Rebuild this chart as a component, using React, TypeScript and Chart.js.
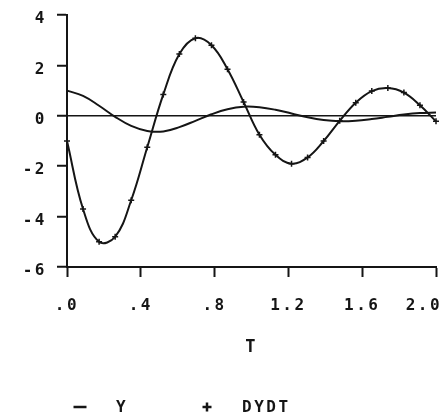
import React, { useEffect, useRef } from 'react';
import { Chart, registerables } from 'chart.js';

Chart.register(...registerables);

// ---- data ----
const T = [0, 0.087, 0.174, 0.261, 0.348, 0.435, 0.522, 0.609, 0.696, 0.783, 0.87, 0.957,
  1.043, 1.13, 1.217, 1.304, 1.391, 1.478, 1.565, 1.652, 1.739, 1.826, 1.913, 2.0];
const Y = [1.0, 0.79, 0.4, -0.04, -0.4, -0.6, -0.62, -0.45, -0.2, 0.06, 0.26, 0.36,
  0.34, 0.24, 0.09, -0.06, -0.17, -0.22, -0.2, -0.13, -0.04, 0.05, 0.11, 0.13];
const DYDT = [-1.0, -3.7, -5.0, -4.8, -3.35, -1.25, 0.85, 2.45, 3.08, 2.8, 1.85, 0.55,
  -0.75, -1.55, -1.9, -1.65, -1.0, -0.2, 0.52, 0.98, 1.1, 0.92, 0.42, -0.22];
const X_TICK_VALUES = [0, 0.4, 0.8, 1.2, 1.6, 2.0];
const X_TICK_LABELS = ['.0', '.4', '.8', '1.2', '1.6', '2.0'];
const Y_TICK_VALUES = [-6, -4, -2, 0, 2, 4];
const Y_TICK_LABELS = ['-6', '-4', '-2', '0', '2', '4'];
const SERIES_NAMES = ['Y', 'DYDT'];
const X_TITLE = 'T';

const INK = '#151515';
const FAMILY = '"DejaVu Sans Mono", monospace';
const SPACING = '2.5px';

const spacingPlugin = {
  id: 'letterSpacing',
  beforeUpdate(chart: any) { chart.ctx.letterSpacing = SPACING; },
  beforeDraw(chart: any) { chart.ctx.letterSpacing = SPACING; },
};

// legend drawn in the old plotter style: symbol, then name
const legendPlugin = {
  id: 'plotterLegend',
  afterDraw(chart: any) {
    const ctx = chart.ctx as CanvasRenderingContext2D;
    const y = 407;
    const items = [
      { sym: 80, text: 116 },
      { sym: 207, text: 242 },
    ];
    ctx.save();
    (ctx as any).letterSpacing = SPACING;
    ctx.font = `bold 16px ${FAMILY}`;
    ctx.fillStyle = INK;
    ctx.strokeStyle = INK;
    ctx.lineWidth = 2.5;
    ctx.textBaseline = 'middle';
    ctx.textAlign = 'left';
    chart.data.datasets.forEach((ds: any, i: number) => {
      const it = items[i];
      ctx.beginPath();
      if (ds.pointStyle === 'cross') {
        ctx.moveTo(it.sym - 4.5, y); ctx.lineTo(it.sym + 4.5, y);
        ctx.moveTo(it.sym, y - 4.5); ctx.lineTo(it.sym, y + 4.5);
      } else {
        ctx.moveTo(it.sym - 6.5, y); ctx.lineTo(it.sym + 6.5, y);
      }
      ctx.stroke();
      ctx.fillText(ds.label, it.text, y + 1);
    });
    ctx.restore();
  },
};

export default function App() {
  const ref = useRef<HTMLCanvasElement | null>(null);
  useEffect(() => {
    if (!ref.current) return;
    const font = { family: FAMILY, size: 16, weight: 'bold' as const };
    const chart = new Chart(ref.current, {
      type: 'line',
      data: {
        datasets: [
          {
            label: SERIES_NAMES[0],
            data: T.map((t, i) => ({ x: t, y: Y[i] })),
            borderColor: INK,
            borderWidth: 2,
            pointRadius: 0,
            pointStyle: 'line',
            tension: 0.4,
            fill: false,
          },
          {
            label: SERIES_NAMES[1],
            data: T.map((t, i) => ({ x: t, y: DYDT[i] })),
            borderColor: INK,
            borderWidth: 2,
            pointStyle: 'cross',
            pointRadius: 3,
            pointBorderWidth: 1.5,
            pointBorderColor: INK,
            tension: 0.4,
            fill: false,
          },
        ],
      },
      options: {
        animation: false,
        responsive: true,
        maintainAspectRatio: false,
        clip: false as any,
        layout: { padding: { left: 0, right: 12, top: 15, bottom: 61 } },
        plugins: { legend: { display: false }, tooltip: { enabled: false } },
        scales: {
          x: {
            type: 'linear',
            min: 0,
            max: 2,
            afterBuildTicks: (s: any) => { s.ticks = X_TICK_VALUES.map((v) => ({ value: v })); },
            afterFit: (s: any) => { s.height = 91; s.paddingLeft = 0; s.paddingRight = 0; },
            ticks: {
              autoSkip: false,
              maxRotation: 0,
              color: INK,
              font,
              padding: 19,
              callback: (_v: any, i: number) =>
                i === X_TICK_LABELS.length - 1 ? X_TICK_LABELS[i] + '  ' : X_TICK_LABELS[i],
            },
            grid: { drawOnChartArea: false, drawTicks: true, tickLength: 10, tickColor: INK, tickWidth: 2 },
            border: { display: true, color: INK, width: 2 },
            title: { display: true, text: X_TITLE, color: INK, font: { ...font, size: 17 }, padding: 0 },
          },
          y: {
            min: -6,
            max: 4,
            afterBuildTicks: (s: any) => { s.ticks = Y_TICK_VALUES.map((v) => ({ value: v })); },
            afterFit: (s: any) => { s.width = 67; s.paddingTop = 0; s.paddingBottom = 0; },
            ticks: {
              color: INK,
              font,
              padding: 10,
              labelOffset: 4,
              callback: (_v: any, i: number) => Y_TICK_LABELS[i],
            },
            grid: {
              color: (c: any) => (c.tick && c.tick.value === 0 ? INK : 'rgba(0,0,0,0)'),
              lineWidth: 1.5,
              drawTicks: true,
              tickLength: 10,
              tickColor: INK,
              tickWidth: 2,
            },
            border: { display: true, color: INK, width: 2 },
          },
        },
      },
      plugins: [spacingPlugin, legendPlugin],
    });
    return () => chart.destroy();
  }, []);
  return (
    <div style={{ position: 'absolute', left: 0, top: 0, width: 448, height: 419, background: '#fff' }}>
      <canvas ref={ref} />
    </div>
  );
}
